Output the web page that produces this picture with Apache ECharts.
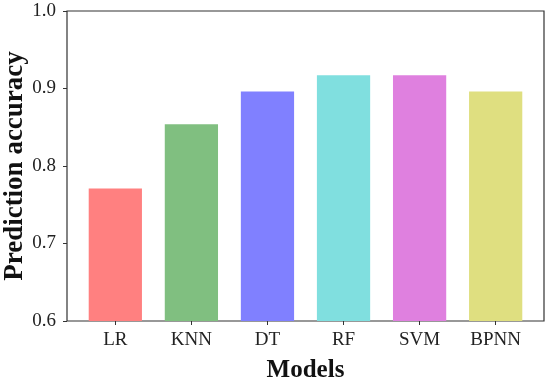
<!DOCTYPE html>
<html>
<head>
<meta charset="utf-8">
<script src="https://cdn.jsdelivr.net/npm/echarts@6/dist/echarts.min.js"></script>
<style>
html,body{margin:0;padding:0;background:#fff;}
#chart{width:550px;height:388px;}
</style>
</head>
<body>
<div id="chart"></div>
<script>
var categories = ['LR', 'KNN', 'DT', 'RF', 'SVM', 'BPNN'];
var accuracy = [0.771, 0.854, 0.896, 0.917, 0.917, 0.896];
var yTicks = [0.6, 0.7, 0.8, 0.9, 1.0];
var palette = ['#ff8080', '#80bf80', '#8080ff', '#80dfdf', '#df80df', '#dfdf80'];

var FONT = 'Liberation Serif';
var chart = echarts.init(document.getElementById('chart'), null, {renderer: 'canvas'});
var option = {
  backgroundColor: '#ffffff',
  animation: false,
  grid: [
    {left: 67, right: 6, top: 11, bottom: 67, containLabel: false, outerBoundsMode: 'none',
     show: true, borderColor: '#333', borderWidth: 1.2, backgroundColor: 'transparent'},
    {left: 77.3, right: 16.3, top: 11, bottom: 67, containLabel: false, outerBoundsMode: 'none'}
  ],
  xAxis: [
    {type: 'value', gridIndex: 0, min: 0, max: 1, show: false},
    {
      type: 'category', gridIndex: 1, data: categories,
      axisLine: {show: false},
      axisTick: {show: true, alignWithLabel: true, length: 4, inside: false, lineStyle: {color: '#333', width: 1}},
      axisLabel: {fontFamily: FONT, fontSize: 19, color: '#222', margin: 10},
      name: 'Models', nameLocation: 'middle', nameGap: 37, nameMoveOverlap: false,
      nameTextStyle: {fontFamily: FONT, fontSize: 25, fontWeight: 'bold', color: '#111'}
    }
  ],
  yAxis: [
    {
      type: 'value', gridIndex: 0, min: yTicks[0], max: yTicks[yTicks.length - 1], interval: 0.1,
      axisLine: {show: false},
      axisTick: {show: true, length: 4, inside: false, lineStyle: {color: '#333', width: 1}},
      splitLine: {show: false},
      axisLabel: {fontFamily: FONT, fontSize: 19, color: '#222', margin: 11,
        formatter: function (v) { return v.toFixed(1); }},
      name: 'Prediction accuracy', nameLocation: 'middle', nameGap: 38, nameMoveOverlap: false,
      nameTextStyle: {fontFamily: FONT, fontSize: 27, fontWeight: 'bold', color: '#111'}
    },
    {type: 'value', gridIndex: 1, min: yTicks[0], max: yTicks[yTicks.length - 1], show: false}
  ],
  series: [{
    type: 'bar', xAxisIndex: 1, yAxisIndex: 1,
    barWidth: '70%',
    data: accuracy.map(function (v, i) {
      return {value: v, itemStyle: {color: palette[i]}};
    })
  }]
};
chart.setOption(option);
</script>
</body>
</html>
